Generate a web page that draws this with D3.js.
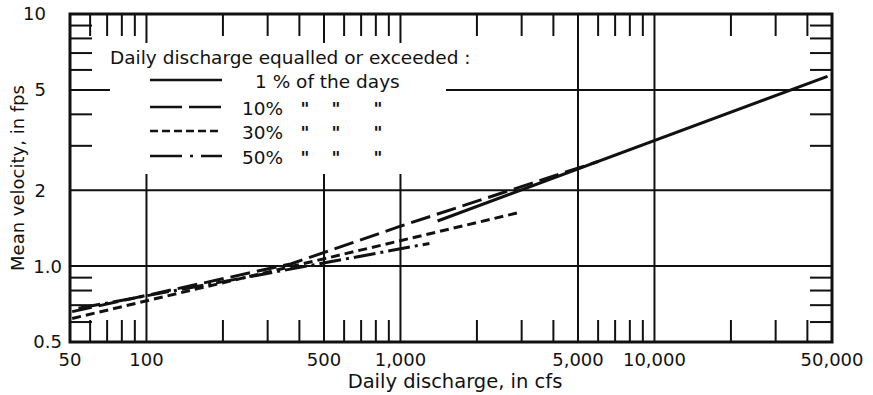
<!DOCTYPE html>
<html>
<head>
<meta charset="utf-8">
<script src="https://cdn.jsdelivr.net/npm/d3@7"></script>
<style>
body { margin: 0; background: #fff; }
svg { display: block; }
text { font-family: "DejaVu Sans", sans-serif; fill: #111; }
</style>
</head>
<body>
<svg id="chart" width="873" height="395"></svg>
<script>
// discharge (cfs) / velocity (fps)
var pct1  = [[1400, 1.51], [48000, 5.66]];
var pct10 = [[51, 0.66], [370, 1.02], [1000, 1.44], [6000, 2.6]];
var pct30 = [[51, 0.62], [3000, 1.64]];
var pct50 = [[54, 0.68], [1300, 1.23]];

var xGrid = [100, 500, 1000, 5000, 10000];
var yGrid = [1, 2, 5];
var xMinor = [60, 70, 80, 90, 200, 300, 400, 600, 700, 800, 900, 2000, 3000, 4000,
              6000, 7000, 8000, 9000, 20000, 30000, 40000];
var yMinor = [0.6, 0.7, 0.8, 0.9, 3, 4, 6, 7, 8, 9];

var xTickVals = [50, 100, 500, 1000, 5000, 10000, 50000];
var xTickText = ["50", "100", "500", "1,000", "5,000", "10,000", "50,000"];
var yTickVals = [0.5, 1, 2, 5, 10];
var yTickText = ["0.5", "1.0", "2", "5", "10"];

var legendTitle = "Daily discharge equalled or exceeded :";
var legendText = ["1 % of the days", "10%", "30%", "50%"];

var width = 873, height = 395;
var margin = ({top: 14, right: 41, bottom: 53, left: 70});

var x = d3.scaleLog()
  .domain([50, 50000])
  .range([margin.left, width - margin.right]);

var y = d3.scaleLog()
  .domain([0.5, 10])
  .range([height - margin.bottom, margin.top]);

var svg = d3.select('#chart');
var x0 = x.range()[0], x1 = x.range()[1], y0 = y.range()[0], y1 = y.range()[1];

// full grid lines
svg.append("g").selectAll("line")
  .data(xGrid)
  .join("line")
  .attr("x1", d => x(d)).attr("x2", d => x(d))
  .attr("y1", y1).attr("y2", y0)
  .attr("stroke", "#111").attr("stroke-width", 2);

svg.append("g").selectAll("line")
  .data(yGrid)
  .join("line")
  .attr("x1", x0).attr("x2", x1)
  .attr("y1", d => y(d)).attr("y2", d => y(d))
  .attr("stroke", "#111").attr("stroke-width", 2);

// blank area behind the legend
svg.append("rect")
  .attr("x", 110).attr("y", 43)
  .attr("width", 336).attr("height", 131)
  .attr("fill", "#fff");

// short ticks on all four sides
var tick = 22;
var ticks = svg.append("g").attr("stroke", "#111").attr("stroke-width", 2);
ticks.selectAll(".tb").data(xMinor).join("line").attr("class", "tb")
  .attr("x1", d => x(d)).attr("x2", d => x(d)).attr("y1", y0).attr("y2", y0 - tick);
ticks.selectAll(".tt").data(xMinor).join("line").attr("class", "tt")
  .attr("x1", d => x(d)).attr("x2", d => x(d)).attr("y1", y1).attr("y2", y1 + tick);
ticks.selectAll(".tl").data(yMinor).join("line").attr("class", "tl")
  .attr("x1", x0).attr("x2", x0 + tick).attr("y1", d => y(d)).attr("y2", d => y(d));
ticks.selectAll(".tr").data(yMinor).join("line").attr("class", "tr")
  .attr("x1", x1).attr("x2", x1 - tick).attr("y1", d => y(d)).attr("y2", d => y(d));

// curves
var line = d3.line().x(d => x(d[0])).y(d => y(d[1]));
var series = [
  {data: pct1,  dash: null},
  {data: pct10, dash: "20,7"},
  {data: pct30, dash: "9,5"},
  {data: pct50, dash: "22,5,3,5"}
];
svg.append("g").selectAll("path")
  .data(series)
  .join("path")
  .attr("d", d => line(d.data))
  .attr("fill", "none")
  .attr("stroke", "#111")
  .attr("stroke-width", 3)
  .attr("stroke-dasharray", d => d.dash);

// frame
svg.append("rect")
  .attr("x", x0).attr("y", y1)
  .attr("width", x1 - x0).attr("height", y0 - y1)
  .attr("fill", "none").attr("stroke", "#111").attr("stroke-width", 3);

// tick labels
svg.append("g").selectAll("text")
  .data(xTickVals)
  .join("text")
  .attr("x", d => x(d)).attr("y", y0 + 24)
  .attr("text-anchor", "middle")
  .attr("font-size", 18)
  .text((d, i) => xTickText[i]);

svg.append("g").selectAll("text")
  .data(yTickVals)
  .join("text")
  .attr("x", d => d < 2 ? 62 : 46)
  .attr("y", d => y(d)).attr("dy", "0.36em")
  .attr("text-anchor", "end")
  .attr("font-size", 18)
  .text((d, i) => yTickText[i]);

// axis titles
svg.append("text")
  .attr("x", 455).attr("y", 388)
  .attr("text-anchor", "middle").attr("font-size", 19.5)
  .text("Daily discharge, in cfs");

svg.append("text")
  .attr("transform", "translate(24,178) rotate(-90)")
  .attr("text-anchor", "middle").attr("font-size", 18)
  .text("Mean velocity, in fps");

// legend
var lg = svg.append("g");
lg.append("text").attr("x", 110).attr("y", 64).attr("font-size", 18.5).text(legendTitle);

var legendDash = [null, "32,7", "8,4", "32,8,3,8"];
var legendY = [80, 107, 131, 156];
lg.selectAll("line")
  .data(legendY)
  .join("line")
  .attr("x1", 150).attr("x2", 222)
  .attr("y1", d => d).attr("y2", d => d)
  .attr("stroke", "#111").attr("stroke-width", 2.5)
  .attr("stroke-dasharray", (d, i) => legendDash[i]);

lg.selectAll(".lab")
  .data(legendText)
  .join("text").attr("class", "lab")
  .attr("x", (d, i) => i == 0 ? 255 : 242)
  .attr("y", (d, i) => legendY[i] + 8)
  .attr("font-size", 18.5)
  .text(d => d);

var dittoX = [305, 336, 378];
legendY.slice(1).forEach(function(ly){
  lg.selectAll(null)
    .data(dittoX)
    .join("text")
    .attr("x", d => d).attr("y", ly + 8)
    .attr("text-anchor", "middle")
    .attr("font-size", 17)
    .attr("font-weight", "bold")
    .text('"');
});
</script>
</body>
</html>
